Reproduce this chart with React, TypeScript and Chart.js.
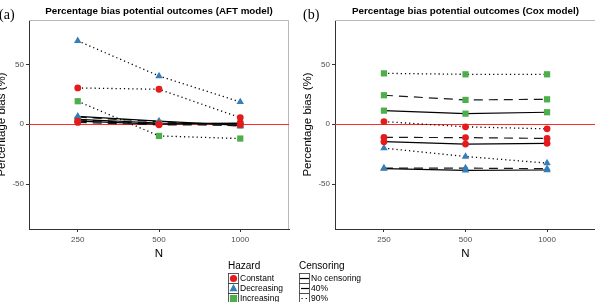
import React, { useEffect, useRef } from 'react';
import { Chart, registerables } from 'chart.js';

Chart.register(...registerables);

// Sample sizes on the x axis
const sampleSizes = ['250', '500', '1000'];
const hazards = ['Constant', 'Decreasing', 'Increasing'];
const censoringLevels = ['No censoring', '40%', '90%'];
const yTickValues = [-50, 0, 50];

// Percentage bias, AFT model (per hazard, per censoring level)
const aftConstantNone = [2.5, 0, 1];
const aftConstant40 = [1.5, -0.5, -0.5];
const aftConstant90 = [30.3, 29.2, 5.5];
const aftDecreasingNone = [6.5, 2.5, -1];
const aftDecreasing40 = [6, 2, -1.5];
const aftDecreasing90 = [69.7, 40.3, 18.6];
const aftIncreasingNone = [4, 1, 0.5];
const aftIncreasing40 = [3.5, 0.5, -1];
const aftIncreasing90 = [19.2, -9.8, -12];

// Percentage bias, Cox model
const coxConstantNone = [-14.6, -16.6, -16];
const coxConstant40 = [-11, -11.2, -11.9];
const coxConstant90 = [2.2, -2.2, -3.9];
const coxDecreasingNone = [-37.2, -38.6, -38.3];
const coxDecreasing40 = [-36.7, -36.7, -37.2];
const coxDecreasing90 = [-20, -27, -32.5];
const coxIncreasingNone = [11.3, 8.8, 10];
const coxIncreasing40 = [24.2, 20.3, 20.8];
const coxIncreasing90 = [42.5, 41.7, 41.7];

const aftSeries = [
  [aftConstantNone, aftConstant40, aftConstant90],
  [aftDecreasingNone, aftDecreasing40, aftDecreasing90],
  [aftIncreasingNone, aftIncreasing40, aftIncreasing90],
];
const coxSeries = [
  [coxConstantNone, coxConstant40, coxConstant90],
  [coxDecreasingNone, coxDecreasing40, coxDecreasing90],
  [coxIncreasingNone, coxIncreasing40, coxIncreasing90],
];

const hazardColors = ['#E41A1C', '#377EB8', '#4DAF4A'];
const hazardShapes = ['circle', 'triangle', 'rect'];
const hazardRadius = [3.4, 4.3, 4.4];
const censorDash = [[], [9, 6], [1.2, 3]];

const SANS = "'Liberation Sans', Arial, Helvetica, sans-serif";
const SERIF = "'Liberation Serif', 'Times New Roman', serif";
const W = 595;
const H = 302;

type PanelSpec = {
  title: string;
  tag: string;
  tagX: number;
  series: number[][][];
  canvasWidth: number;
  padLeft: number;
  padRight: number;
  yWidth: number;
  legend: boolean;
};

const panels: PanelSpec[] = [
  {
    title: 'Percentage bias potential outcomes (AFT model)',
    tag: '(a)',
    tagX: -1,
    series: aftSeries,
    canvasWidth: W,
    padLeft: 0,
    padRight: 306,
    yWidth: 29,
    legend: true,
  },
  {
    title: 'Percentage bias potential outcomes (Cox model)',
    tag: '(b)',
    tagX: 303,
    series: coxSeries,
    // the right-hand panel runs past the page edge
    canvasWidth: 620,
    padLeft: 305,
    padRight: 24,
    yWidth: 30,
    legend: false,
  },
];

function drawLegend(ctx: CanvasRenderingContext2D) {
  ctx.save();
  ctx.fillStyle = '#000';
  ctx.textBaseline = 'middle';
  ctx.textAlign = 'left';
  ctx.font = `10px ${SANS}`;
  ctx.fillText('Hazard', 228, 266);
  ctx.fillText('Censoring', 299, 266);
  const rows = [278.5, 288.5, 298.5];
  ctx.font = `8.5px ${SANS}`;
  hazards.forEach((h, i) => {
    const cy = rows[i];
    const kx = 228.5;
    ctx.fillStyle = '#fff';
    ctx.fillRect(kx, cy - 5, 10, 10);
    ctx.strokeStyle = '#333';
    ctx.lineWidth = 0.8;
    ctx.strokeRect(kx, cy - 5, 10, 10);
    ctx.fillStyle = hazardColors[i];
    ctx.beginPath();
    const cx = kx + 5;
    if (i === 0) {
      ctx.arc(cx, cy, 3.6, 0, Math.PI * 2);
    } else if (i === 1) {
      const r = 4.6;
      ctx.moveTo(cx, cy - r);
      ctx.lineTo(cx + r * 0.866, cy + r * 0.5 + 0.5);
      ctx.lineTo(cx - r * 0.866, cy + r * 0.5 + 0.5);
      ctx.closePath();
    } else {
      ctx.rect(cx - 3.6, cy - 3.6, 7.2, 7.2);
    }
    ctx.fill();
    ctx.fillStyle = '#000';
    ctx.fillText(h, 240, cy);
  });
  censoringLevels.forEach((c, i) => {
    const cy = rows[i];
    const kx = 299.5;
    ctx.fillStyle = '#fff';
    ctx.fillRect(kx, cy - 5, 10, 10);
    ctx.strokeStyle = '#333';
    ctx.lineWidth = 0.8;
    ctx.strokeRect(kx, cy - 5, 10, 10);
    ctx.strokeStyle = '#000';
    ctx.lineWidth = 1.2;
    ctx.setLineDash(censorDash[i]);
    ctx.lineDashOffset = i === 1 ? -1 : -1.5;
    ctx.beginPath();
    ctx.moveTo(kx + 0.5, cy);
    ctx.lineTo(kx + 9.5, cy);
    ctx.stroke();
    ctx.setLineDash([]);
    ctx.fillStyle = '#000';
    ctx.fillText(c, 311, cy);
  });
  ctx.restore();
}

function makePanelPlugin(spec: PanelSpec) {
  return {
    id: 'panelDecor',
    beforeDatasetsDraw(chart: any) {
      const { ctx, chartArea } = chart;
      const y0 = chart.scales.y.getPixelForValue(0);
      ctx.save();
      // light frame on the top and right sides
      ctx.strokeStyle = '#b8b8b8';
      ctx.lineWidth = 1;
      ctx.beginPath();
      ctx.moveTo(chartArea.left, chartArea.top + 0.5);
      ctx.lineTo(chartArea.right - 0.5, chartArea.top + 0.5);
      ctx.lineTo(chartArea.right - 0.5, chartArea.bottom);
      ctx.stroke();
      // reference line at zero bias
      ctx.strokeStyle = '#FF2A2A';
      ctx.lineWidth = 1;
      ctx.beginPath();
      ctx.moveTo(chartArea.left, Math.round(y0) + 0.5);
      ctx.lineTo(chartArea.right, Math.round(y0) + 0.5);
      ctx.stroke();
      ctx.restore();
    },
    afterDraw(chart: any) {
      const { ctx, chartArea } = chart;
      const cx = (chartArea.left + chartArea.right) / 2;
      const cy = (chartArea.top + chartArea.bottom) / 2;
      ctx.save();
      ctx.fillStyle = '#000';
      ctx.textBaseline = 'middle';
      ctx.textAlign = 'center';
      ctx.font = `bold 9.8px ${SANS}`;
      ctx.fillText(spec.title, cx, 11.5);
      ctx.textAlign = 'left';
      ctx.font = `14px ${SERIF}`;
      ctx.fillText(spec.tag, spec.tagX, 15);
      ctx.textAlign = 'center';
      ctx.font = `11.5px ${SANS}`;
      ctx.fillText('N', cx, 254);
      ctx.translate(chartArea.left - 27.5, cy);
      ctx.rotate(-Math.PI / 2);
      ctx.fillText('Percentage bias (%)', 0, 0);
      ctx.restore();
      if (spec.legend) drawLegend(ctx);
    },
  };
}

function buildDatasets(series: number[][][]) {
  const lines: any[] = [];
  const points: any[] = [];
  series.forEach((byCensor, h) => {
    byCensor.forEach((vals, c) => {
      const data = vals.map((v, i) => ({ x: i + 1, y: v }));
      lines.push({
        label: `${hazards[h]} ${censoringLevels[c]} line`,
        data,
        borderColor: c === 1 ? '#1a1a1a' : '#000',
        borderWidth: c === 2 ? 1.3 : 1.2,
        borderDash: censorDash[c],
        pointRadius: 0,
        showLine: true,
        fill: false,
        order: 2,
      });
      points.push({
        label: `${hazards[h]} ${censoringLevels[c]}`,
        data,
        showLine: false,
        pointStyle: hazardShapes[h],
        pointRadius: hazardRadius[h],
        pointBackgroundColor: hazardColors[h],
        pointBorderColor: hazardColors[h],
        pointBorderWidth: 0,
        order: 1,
      });
    });
  });
  return [...lines, ...points];
}

function PanelChart({ spec }: { spec: PanelSpec }) {
  const ref = useRef<HTMLCanvasElement>(null);
  useEffect(() => {
    if (!ref.current) return;
    const chart = new Chart(ref.current, {
      type: 'scatter',
      data: { datasets: buildDatasets(spec.series) },
      options: {
        animation: false,
        responsive: false,
        devicePixelRatio: 1,
        layout: {
          padding: { left: spec.padLeft, right: spec.padRight, top: 20, bottom: 43 },
        },
        plugins: {
          legend: { display: false },
          tooltip: { enabled: false },
          title: { display: false },
        },
        scales: {
          x: {
            type: 'linear',
            min: 0.4,
            max: 3.6,
            afterBuildTicks: (s: any) => {
              s.ticks = sampleSizes.map((_, i) => ({ value: i + 1 }));
            },
            afterFit: (s: any) => {
              s.height = 30;
            },
            ticks: {
              callback: (v: any) => sampleSizes[Math.round(v) - 1] ?? '',
              font: { family: SANS, size: 8 },
              color: '#4d4d4d',
              padding: 3,
              maxRotation: 0,
              autoSkip: false,
            },
            grid: {
              display: true,
              drawOnChartArea: false,
              drawTicks: true,
              tickLength: 3,
              tickColor: '#333',
            },
            border: { display: true, color: '#333', width: 1 },
          },
          y: {
            type: 'linear',
            min: -87.6,
            max: 87.1,
            afterBuildTicks: (s: any) => {
              s.ticks = yTickValues.map((v) => ({ value: v }));
            },
            afterFit: (s: any) => {
              s.width = spec.yWidth;
            },
            ticks: {
              font: { family: SANS, size: 8 },
              color: '#4d4d4d',
              padding: 2,
            },
            grid: {
              display: true,
              drawOnChartArea: false,
              drawTicks: true,
              tickLength: 3,
              tickColor: '#333',
            },
            border: { display: true, color: '#333', width: 1 },
          },
        },
      },
      plugins: [makePanelPlugin(spec)],
    } as any);
    return () => chart.destroy();
  }, [spec]);
  return (
    <canvas
      ref={ref}
      width={spec.canvasWidth}
      height={H}
      style={{ position: 'absolute', left: 0, top: 0, width: spec.canvasWidth, height: H }}
    />
  );
}

export default function App() {
  return (
    <div
      style={{
        position: 'fixed',
        left: 0,
        top: 0,
        width: W,
        height: H,
        background: '#fff',
        overflow: 'hidden',
      }}
    >
      {panels.map((p) => (
        <PanelChart key={p.tag} spec={p} />
      ))}
    </div>
  );
}
